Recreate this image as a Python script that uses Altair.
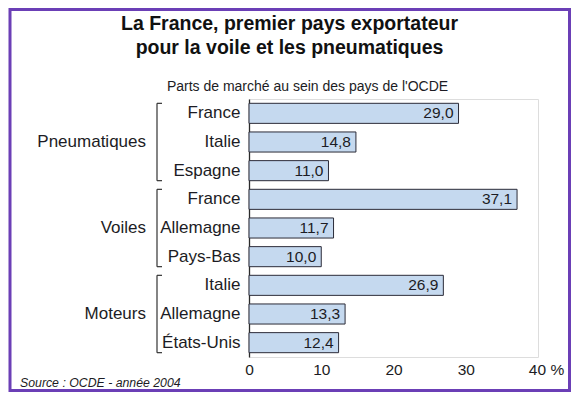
import altair as alt
import pandas as pd

# ---- data ----
groups = ["Pneumatiques", "Pneumatiques", "Pneumatiques",
          "Voiles", "Voiles", "Voiles",
          "Moteurs", "Moteurs", "Moteurs"]
countries = ["France", "Italie", "Espagne",
             "France", "Allemagne", "Pays-Bas",
             "Italie", "Allemagne", "États-Unis"]
shares = [29.0, 14.8, 11.0, 37.1, 11.7, 10.0, 26.9, 13.3, 12.4]
group_names = ["Pneumatiques", "Voiles", "Moteurs"]
x_ticks = [0, 10, 20, 30, 40]
title_lines = ["La France, premier pays exportateur",
               "pour la voile et les pneumatiques"]
subtitle_text = "Parts de marché au sein des pays de l'OCDE"
source_text = "Source : OCDE - année 2004"

keys = [f"{g}|{c}" for g, c in zip(groups, countries)]
df = pd.DataFrame({
    "key": keys,
    "group": groups,
    "country": countries,
    "share": shares,
    "label": [f"{v:.1f}".replace(".", ",") for v in shares],
})

grp_rows = []
for g in group_names:
    ks = [k for k, gg in zip(keys, groups) if gg == g]
    grp_rows.append({"group": g, "first": ks[0], "mid": ks[len(ks) // 2], "last": ks[-1]})
gdf = pd.DataFrame(grp_rows)

FONT = "Liberation Sans"
INK = "#1c1c24"
PURPLE = "#6b3fb6"

yscale = alt.Scale(domain=keys, paddingInner=0.3, paddingOuter=0.15)

yaxis = alt.Axis(
    labelExpr="split(datum.label, '|')[1]",
    labelFontSize=17, labelColor=INK, labelFont=FONT,
    ticks=True, tickSize=0, labelPadding=9,
    domain=True, domainColor="#2a2a2a", domainWidth=1.3,
    grid=False, labelLimit=200, title=None,
)


def ycat(field):
    return alt.Y(f"{field}:N", sort=None, scale=yscale, title=None, axis=yaxis)


xaxis = alt.Axis(
    values=x_ticks, labelExpr="datum.value == 40 ? '40 %' : datum.label",
    labelFontSize=15.5, labelColor=INK, labelFont=FONT, labelFlush=False,
    ticks=True, tickSize=0, labelPadding=5, domain=False, grid=False, title=None,
    labelOffset={"condition": {"test": "datum.value == 40", "value": 8}, "value": 0},
)
xenc = alt.X("share:Q", scale=alt.Scale(domain=[0, 40], nice=False), title=None, axis=xaxis)

one = alt.Data(values=[{}])

frame = alt.Chart(one).mark_rect(fillOpacity=0, stroke=PURPLE, strokeWidth=3).encode(
    x=alt.value(-239), x2=alt.value(320.5), y=alt.value(-89.5), y2=alt.value(291.5)
)

bars = alt.Chart(df).mark_bar(fill="#c5d9ef", stroke="#2b2b38", strokeWidth=1).encode(
    x=xenc, y=ycat("key")
)

values_txt = alt.Chart(df).mark_text(
    align="right", baseline="middle", dx=-5, fontSize=15.5, color=INK, font=FONT
).encode(x=xenc, y=ycat("key"), text="label:N")

group_txt = alt.Chart(gdf).mark_text(
    align="right", baseline="middle", fontSize=17, color=INK, font=FONT
).encode(x=alt.value(-103), y=ycat("mid"), text="group:N")

bracket_v = alt.Chart(gdf).mark_rule(
    yOffset=-10, y2Offset=10, color="#333333", strokeWidth=1.2
).encode(x=alt.value(-92), y=ycat("first"), y2="last:N")

bracket_top = alt.Chart(gdf).mark_rule(yOffset=-10, color="#333333", strokeWidth=1.2).encode(
    x=alt.value(-92), x2=alt.value(-87), y=ycat("first")
)
bracket_bot = alt.Chart(gdf).mark_rule(yOffset=10, color="#333333", strokeWidth=1.2).encode(
    x=alt.value(-92), x2=alt.value(-87), y=ycat("last")
)

title1 = alt.Chart(alt.Data(values=[{"t": title_lines[0]}])).mark_text(
    align="center", baseline="alphabetic", fontSize=19.5, fontWeight="bold", color="#111111", font=FONT
).encode(x=alt.value(40.5), y=alt.value(-69), text="t:N")
title2 = alt.Chart(alt.Data(values=[{"t": title_lines[1]}])).mark_text(
    align="center", baseline="alphabetic", fontSize=19.5, fontWeight="bold", color="#111111", font=FONT
).encode(x=alt.value(40.5), y=alt.value(-45), text="t:N")
subtitle = alt.Chart(alt.Data(values=[{"t": subtitle_text}])).mark_text(
    align="center", baseline="alphabetic", fontSize=14, color=INK, font=FONT
).encode(x=alt.value(58.5), y=alt.value(-8), text="t:N")
source = alt.Chart(alt.Data(values=[{"t": source_text}])).mark_text(
    align="left", baseline="alphabetic", fontSize=12.3, fontStyle="italic", color=INK, font=FONT
).encode(x=alt.value(-229), y=alt.value(288), text="t:N")

chart = alt.layer(
    frame, bars, values_txt, group_txt, bracket_v, bracket_top, bracket_bot,
    title1, title2, subtitle, source
).properties(
    width=289, height=258,
    autosize=alt.AutoSizeParams(type="none"),
    padding={"left": 241, "top": 91, "right": 33, "bottom": 35},
    background="white",
).configure_view(strokeWidth=0).configure(font=FONT)

chart.save("out.html", embed_options={"renderer": "svg", "actions": False})
